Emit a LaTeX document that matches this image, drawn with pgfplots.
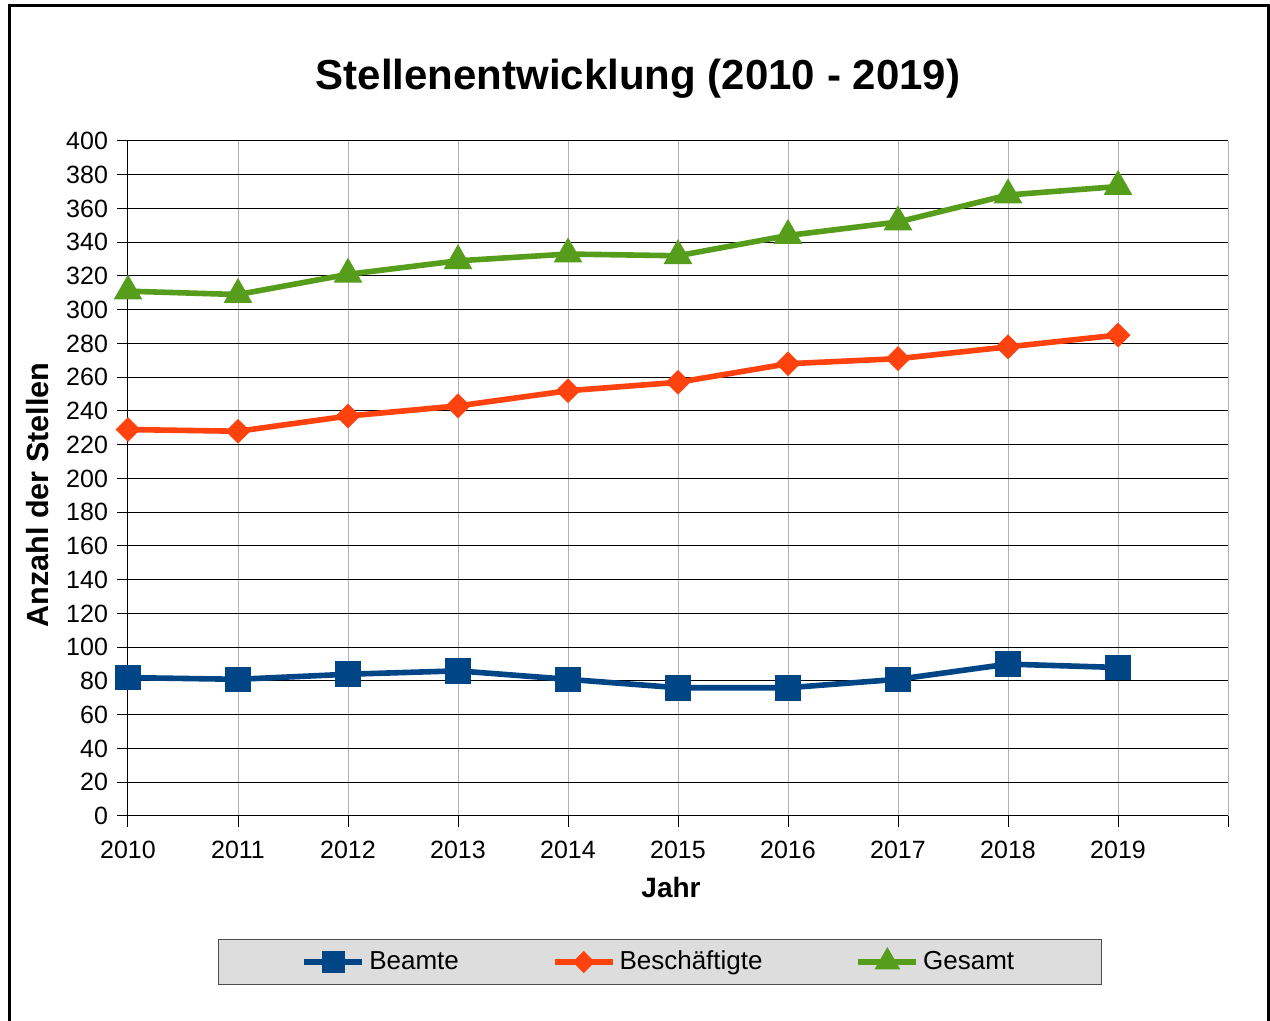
\documentclass[border=0pt]{standalone}
\usepackage{pgfplots}
\pgfplotsset{compat=1.18}
\usepackage{fontspec}
\setmainfont{Liberation Sans}
\definecolor{cBeamte}{HTML}{004586}
\definecolor{cBesch}{HTML}{FF420E}
\definecolor{cGesamt}{HTML}{579D1C}
\definecolor{legfill}{HTML}{DDDDDD}
\definecolor{vgrid}{HTML}{B3B3B3}
\begin{document}
\begin{tikzpicture}
\useasboundingbox (0,0) rectangle (635pt,510.5pt);
\fill[white] (0,0) rectangle (635pt,510.5pt);
\draw[line width=1.5pt] (4.5pt,-2pt) -- (4.5pt,507.75pt) -- (634pt,507.75pt) -- (634pt,-2pt);
\node[font=\bfseries\fontsize{21pt}{25pt}\selectfont, anchor=base] at (319pt,465.5pt) {Stellenentwicklung (2010 - 2019)};
\node[font=\bfseries\fontsize{14pt}{16pt}\selectfont, anchor=base] at (335.5pt,61.5pt) {Jahr};
\node[font=\bfseries\fontsize{15.3pt}{18pt}\selectfont, anchor=base, rotate=90] at (24pt,263pt) {Anzahl der Stellen};
\begin{axis}[
  at={(64pt,102.5pt)}, anchor=south west,
  scale only axis, width=550pt, height=337.5pt,
  xmin=2010, xmax=2020, ymin=0, ymax=400,
  xtick={2010,2011,2012,2013,2014,2015,2016,2017,2018,2019,2020},
  xticklabels={2010,2011,2012,2013,2014,2015,2016,2017,2018,2019,{}},
  ytick={0,20,...,400},
  axis lines*=left,
  axis line style={black, line width=0.5pt},
  tick align=outside, major tick length=5.5pt,
  tick style={black, line width=0.5pt},
  xmajorgrids, ymajorgrids,
  major x grid style={vgrid, line width=0.5pt},
  major y grid style={black, line width=0.5pt},
  /pgf/number format/assume math mode=true,
  ticklabel style={font=\fontsize{12.5pt}{15pt}\selectfont},
  yticklabel style={xshift=-1pt},
  xticklabel style={yshift=-3.5pt},
  clip=false,
  legend columns=3,
  legend cell align=left,
  legend style={
    at={(0.4836,-0.2163)}, anchor=center,
    draw=black!70, fill=legfill, line width=0.5pt,
    inner xsep=41.5pt, inner ysep=4pt,
    font=\fontsize{13pt}{15.6pt}\selectfont,
    /tikz/every odd column/.append style={column sep=0pt},
    /tikz/every even column/.append style={column sep=44.5pt},
  },
  legend image code/.code={
    \draw[mark repeat=2, mark phase=2, mark size=0.85*\pgfplotmarksize] plot coordinates {(0pt,0pt) (14.5pt,0pt) (29pt,0pt)};
  },
]
\addplot[cBeamte, line width=2.8pt, mark=square*, mark size=5pt, mark options={solid}] coordinates {
(2010,82) (2011,81) (2012,84) (2013,86) (2014,81) (2015,76) (2016,76) (2017,81) (2018,90) (2019,88)};
\addlegendentry{Beamte}
\addplot[cBesch, line width=2.8pt, mark=square*, mark size=3pt, mark options={solid, rotate=45}] coordinates {
(2010,229) (2011,228) (2012,237) (2013,243) (2014,252) (2015,257) (2016,268) (2017,271) (2018,278) (2019,285)};
\addlegendentry{Beschäftigte}
\addplot[cGesamt, line width=2.8pt, mark=triangle*, mark size=5.5pt, mark options={solid}] coordinates {
(2010,311) (2011,309) (2012,321) (2013,329) (2014,333) (2015,332) (2016,344) (2017,352) (2018,368) (2019,373)};
\addlegendentry{Gesamt}
\end{axis}
\end{tikzpicture}
\end{document}
